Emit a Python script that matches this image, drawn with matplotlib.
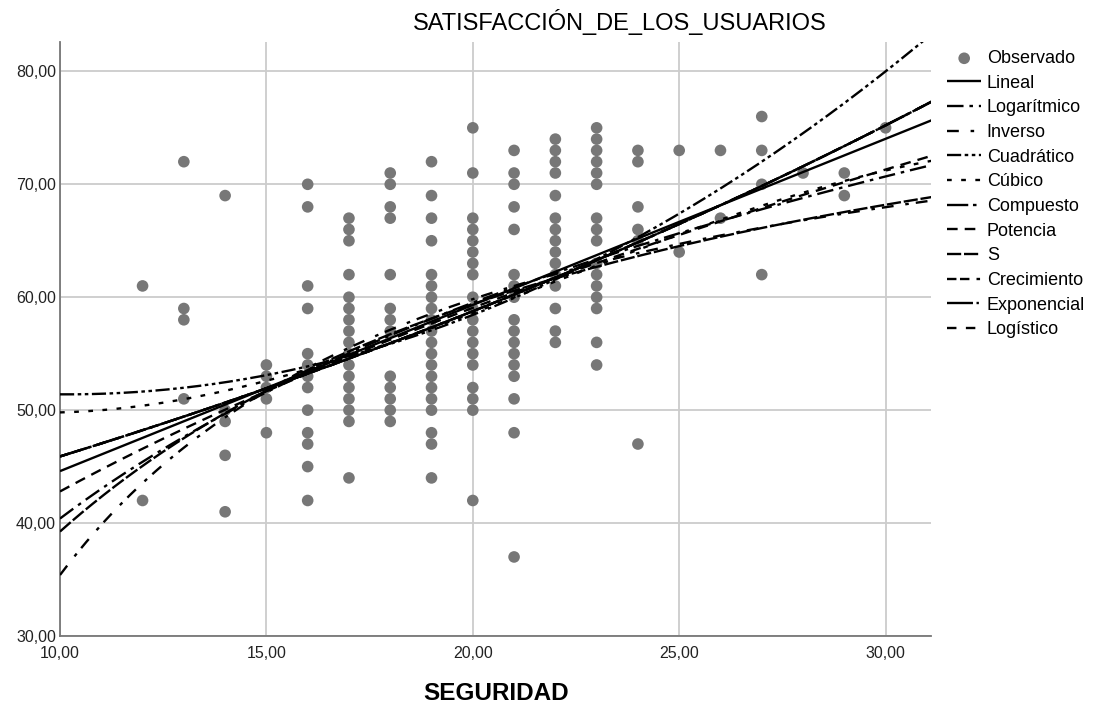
import numpy as np
import matplotlib
matplotlib.use("Agg")
import matplotlib.pyplot as plt
from matplotlib.ticker import FuncFormatter

plt.rcParams['font.family'] = ['Liberation Sans', 'DejaVu Sans']

seguridad_niveles = [12, 13, 14, 15, 16, 17, 18, 19, 20, 21, 22, 23, 24, 25, 26, 27, 28, 29, 30]
satisfaccion_por_nivel = [
    [61, 42],
    [72, 59, 58, 51],
    [69, 50, 49, 46, 41],
    [54, 53, 52, 51, 48],
    [70, 68, 61, 59, 55, 54, 53, 52, 50, 48, 47, 45, 42],
    [67, 66, 65, 62, 60, 59, 58, 57, 56, 55, 54, 53, 52, 51, 50, 49, 44],
    [71, 70, 68, 67, 62, 59, 58, 57, 53, 52, 51, 50, 49],
    [72, 69, 67, 65, 62, 61, 60, 59, 58, 57, 56, 55, 54, 53, 52, 51, 50, 48, 47, 44],
    [75, 71, 67, 66, 65, 64, 63, 62, 60, 59, 58, 57, 56, 55, 54, 52, 51, 50, 42],
    [73, 71, 70, 68, 66, 62, 61, 60, 58, 57, 56, 55, 54, 53, 51, 48, 37],
    [74, 73, 72, 71, 69, 67, 66, 65, 64, 63, 62, 61, 59, 57, 56],
    [75, 74, 73, 72, 71, 70, 67, 66, 65, 63, 62, 61, 60, 59, 56, 54],
    [73, 72, 68, 66, 65, 47],
    [73, 64],
    [73, 67],
    [76, 73, 70, 62],
    [71],
    [71, 69],
    [75],
]

modelos = ["Lineal", "Logarítmico", "Inverso", "Cuadrático", "Cúbico", "Compuesto",
           "Potencia", "S", "Crecimiento", "Exponencial", "Logístico"]

# ---- fitted-curve values (x position, curve value) ----
lineal_x, lineal_y = [10, 31], [44.6, 75.5]
logaritmico_x, logaritmico_y = [10, 31], [40.4, 71.6]
inverso_x, inverso_y = [10, 31], [35.4, 68.5]
cuadratico_x, cuadratico_y = [10, 15, 30], [51.4, 53.1, 80.0]
cubico_x, cubico_y = [10, 15, 20, 31], [49.8, 52.6, 58.6, 72.0]
compuesto_x, compuesto_y = [10, 31], [45.9, 77.1]
potencia_x, potencia_y = [10, 31], [42.8, 72.4]
s_x, s_y = [10, 31], [39.25, 68.8]

x_ticks = [10, 15, 20, 25, 30]
y_ticks = [30, 40, 50, 60, 70, 80]

x_obs = np.concatenate([[lv] * len(v) for lv, v in zip(seguridad_niveles, satisfaccion_por_nivel)]).astype(float)
y_obs = np.concatenate(satisfaccion_por_nivel).astype(float)

# ---- evaluate each model form through its read values ----
xx = np.linspace(10, 31.2, 400)

def modelo(px, py, tx=lambda v: v, ty=lambda v: v, inv=lambda v: v, deg=1):
    b = np.polyfit(tx(np.asarray(px, float)), ty(np.asarray(py, float)), deg)
    return inv(np.polyval(b, tx(xx)))

curvas = {}
curvas["Lineal"] = modelo(lineal_x, lineal_y)
curvas["Logarítmico"] = modelo(logaritmico_x, logaritmico_y, tx=np.log)
curvas["Inverso"] = modelo(inverso_x, inverso_y, tx=lambda v: 1 / v)
curvas["Cuadrático"] = modelo(cuadratico_x, cuadratico_y, deg=2)
curvas["Cúbico"] = modelo(cubico_x, cubico_y, deg=3)
expo = modelo(compuesto_x, compuesto_y, ty=np.log, inv=np.exp)
curvas["Compuesto"] = expo
curvas["Potencia"] = modelo(potencia_x, potencia_y, tx=np.log, ty=np.log, inv=np.exp)
curvas["S"] = modelo(s_x, s_y, tx=lambda v: 1 / v, ty=np.log, inv=np.exp)
curvas["Crecimiento"] = expo
curvas["Exponencial"] = expo
curvas["Logístico"] = expo

estilos = {
    "Lineal": (0, ()),
    "Logarítmico": (0, (7, 2.5, 1.5, 2.5)),
    "Inverso": (0, (5, 5, 1.5, 3)),
    "Cuadrático": (0, (6, 1.5, 1.5, 1.5, 1.5, 1.5)),
    "Cúbico": (0, (2, 4)),
    "Compuesto": (0, (9, 2, 1.5, 2)),
    "Potencia": (0, (4.5, 3)),
    "S": (0, (6, 1.2)),
    "Crecimiento": (0, (4, 1.5, 4, 3, 1.5, 3)),
    "Exponencial": (0, (11, 1.5, 1, 1.5)),
    "Logístico": (0, (4, 4)),
}

# ---- figure ----
fig = plt.figure(figsize=(10.93, 7.06), dpi=100)
ax = fig.add_axes([60 / 1093, 1 - 636 / 706, (931 - 60) / 1093, (636 - 42) / 706])

ax.scatter(x_obs, y_obs, s=70, color="#777777", edgecolors="none", zorder=3, label="Observado")
for m in modelos:
    ax.plot(xx, curvas[m], color="black", lw=1.7, linestyle=estilos[m], zorder=4, label=m)

ax.set_xlim(10, 31.1)
ax.set_ylim(30, 82.6)
ax.set_xticks(x_ticks)
ax.set_yticks(y_ticks)
fmt = FuncFormatter(lambda v, p: f"{v:.2f}".replace(".", ","))
ax.xaxis.set_major_formatter(fmt)
ax.yaxis.set_major_formatter(fmt)
ax.grid(True, color="#cccccc", lw=1.3, zorder=0)
ax.set_axisbelow(True)
for s in ["top", "right"]:
    ax.spines[s].set_visible(False)
for s in ["left", "bottom"]:
    ax.spines[s].set_color("#777777")
    ax.spines[s].set_linewidth(1.3)
ax.tick_params(length=0, labelsize=11.5, colors="#222222")
ax.tick_params(axis="x", pad=7)
ax.tick_params(axis="y", pad=3)

fig.text(620 / 1093, 1 - 22 / 706, "SATISFACCIÓN_DE_LOS_USUARIOS", ha="center", va="center",
         fontsize=17, color="black")
fig.text(496 / 1093, 1 - 693 / 706, "SEGURIDAD", ha="center", va="center",
         fontsize=17.5, fontweight="bold", color="black")

leg = ax.legend(loc="upper left", bbox_to_anchor=(938 / 1093, 1 - 41 / 706),
                bbox_transform=fig.transFigure, frameon=False, fontsize=13,
                handlelength=1.9, handletextpad=0.3, labelspacing=0.425, borderpad=0,
                markerscale=1.0)

fig.savefig("out.png", dpi=100)
